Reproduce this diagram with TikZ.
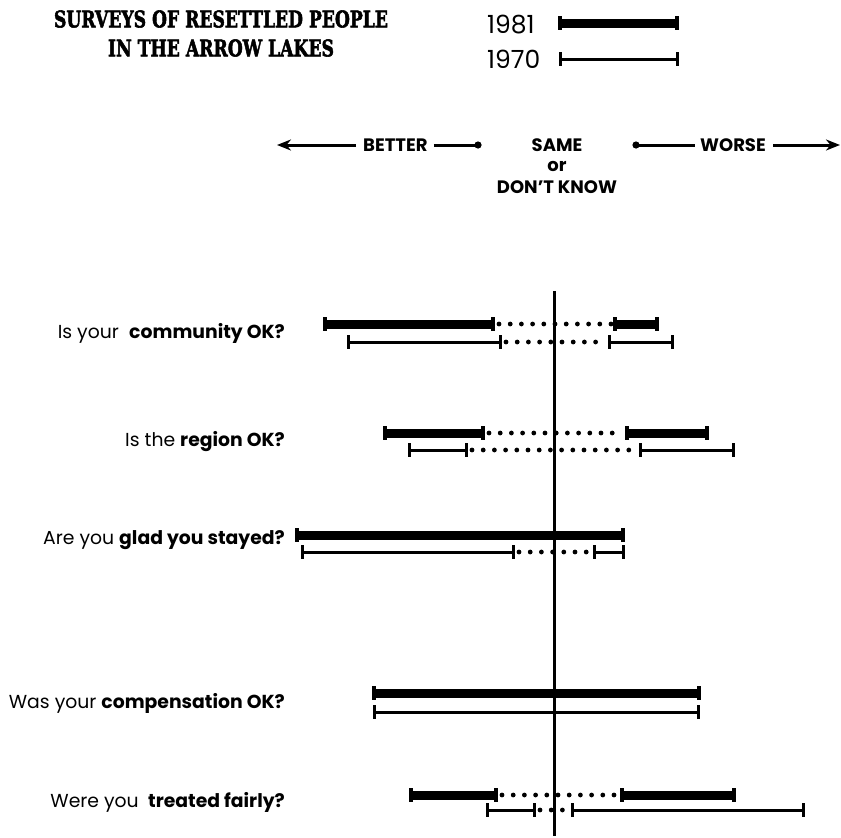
\documentclass[tikz,border=0pt]{standalone}
\usepackage{fontspec}
\setmainfont{Poppins}
\newfontfamily\titlefont{DejaVu Serif}[BoldFeatures={FakeBold=2.5}]
\usetikzlibrary{arrows.meta}
\tikzset{
  kline/.style={line width=9pt},
  kcap/.style={line width=4pt},
  tline/.style={line width=3pt},
  tcap/.style={line width=3pt},
  dotline/.style={line width=4.8pt, line cap=round, dash pattern=on 0pt off 11.2pt, shorten <=6pt, shorten >=4pt},
  lab/.style={anchor=east, inner sep=0pt, font=\fontsize{18.8}{22}\selectfont},
  hdr/.style={inner sep=0pt, font=\fontsize{18}{21}\selectfont\bfseries},
  yr/.style={anchor=west, inner sep=0pt, font=\fontsize{25}{28}\selectfont},
  axis/.style={line width=3pt},
  harrow/.style={line width=3pt},
}
\newcommand\kbar[4]{%
  \coordinate (#1-l) at (#2,#4); \coordinate (#1-r) at (#3,#4);
  \draw[kline] (#1-l) -- (#1-r);
  \draw[kcap] ([yshift=7pt]#1-l) -- ([yshift=-7pt]#1-l);
  \draw[kcap] ([yshift=7pt]#1-r) -- ([yshift=-7pt]#1-r);}
\newcommand\tbar[4]{%
  \coordinate (#1-l) at (#2,#4); \coordinate (#1-r) at (#3,#4);
  \draw[tline] (#1-l) -- (#1-r);
  \draw[tcap] ([yshift=7pt]#1-l) -- ([yshift=-7pt]#1-l);
  \draw[tcap] ([yshift=7pt]#1-r) -- ([yshift=-7pt]#1-r);}
\begin{document}
\begin{tikzpicture}[x=1pt,y=-1pt]
\useasboundingbox (0,0) rectangle (841,838);

% title
\node[inner sep=0pt] (title1) at (221,19) {\resizebox{334pt}{17pt}{\titlefont\bfseries SURVEYS OF RESETTLED PEOPLE}};
\node[inner sep=0pt] (title2) at (221,48) {\resizebox{226pt}{17pt}{\titlefont\bfseries IN THE ARROW LAKES}};

% legend
\node[yr] (y81) at (487,25) {1981};
\node[yr] (y70) at (487,59) {1970};
\kbar{leg81}{560}{677}{23}
\tbar{leg70}{560}{677}{59}

% header
\node[hdr, anchor=west] (better) at (363,145) {BETTER};
\node[hdr, anchor=east] (worse) at (766,145) {WORSE};
\node[hdr] (same) at (557,145) {SAME};
\node[hdr] (or) at (557,166) {or};
\node[hdr] (dk) at (557,187) {DON'T KNOW};
\coordinate (la) at (277,145);
\coordinate (ra) at (840,145);
\coordinate (ldot) at (478,145);
\coordinate (rdot) at (636,145);
\draw[harrow,-{Stealth[length=14pt,width=11pt]}] ([xshift=-7pt]better.west) -- (la);
\draw[harrow,-{Stealth[length=14pt,width=11pt]}] ([xshift=7pt]worse.east) -- (ra);
\draw[harrow] ([xshift=6pt]better.east) -- (ldot);
\draw[harrow] (rdot) -- ([xshift=-5pt]worse.west);
\fill (ldot) circle (3.6pt);
\fill (rdot) circle (3.6pt);

% central axis
\coordinate (vtop) at (554,291);
\coordinate (vbot) at (554,836);
\draw[axis] (vtop) -- (vbot);

% row labels
\node[lab] (q1) at (285,333) {Is your\hspace{0.55em}\textbf{community OK?}};
\node[lab] (q2) at (285,442) {Is the \textbf{region OK?}};
\node[lab] (q3) at (285,540) {Are you \textbf{glad you stayed?}};
\node[lab] (q4) at (285,703) {Was your \textbf{compensation OK?}};
\node[lab] (q5) at (285,802) {Were you\hspace{0.5em}\textbf{treated fairly?}};

% row 1
\kbar{a1}{325}{493}{324} \kbar{a2}{615}{657}{324}
\draw[dotline] (a1-r) -- (a2-l);
\tbar{b1}{348}{500}{342} \tbar{b2}{609}{672}{342}
\draw[dotline] (b1-r) -- (b2-l);

% row 2
\kbar{c1}{385}{483}{433} \kbar{c2}{627}{707}{433}
\draw[dotline] (c1-r) -- (c2-l);
\tbar{d1}{409}{466}{450} \tbar{d2}{640}{733}{450}
\draw[dotline] (d1-r) -- (d2-l);

% row 3
\kbar{e1}{297}{623}{535}
\tbar{f1}{302}{513}{552} \tbar{f2}{594}{623}{552}
\draw[dotline] (f1-r) -- (f2-l);

% row 4
\kbar{g1}{374}{699}{693}
\tbar{h1}{374}{698}{712}

% row 5
\kbar{i1}{411}{496}{795} \kbar{i2}{622}{734}{795}
\draw[dotline] (i1-r) -- (i2-l);
\tbar{j1}{487}{534}{810} \tbar{j2}{572}{803}{810}
\draw[dotline] (j1-r) -- (j2-l);
\end{tikzpicture}
\end{document}
